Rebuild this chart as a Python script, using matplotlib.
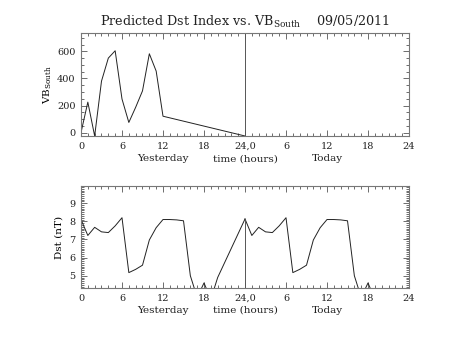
import matplotlib
matplotlib.use("Agg")
import matplotlib.pyplot as plt
from matplotlib.ticker import MultipleLocator

plt.rcParams['font.family'] = 'DejaVu Serif'
plt.rcParams['mathtext.fontset'] = 'dejavuserif'
plt.rcParams['text.color'] = '#222222'

# hourly values, yesterday (0-24) and today (24-48)
vb_hours = [0, 1, 2, 3, 4, 5, 6, 7, 8, 9, 10, 11, 12, 24]
vb_south = [0, 225, -25, 380, 550, 604, 248, 75, 187, 308, 582, 454, 121, -25]

dst_hours_yest = [0, 1, 2, 3, 4, 5, 6, 7, 8, 9, 10, 11, 12, 13, 14, 15, 16, 17, 18, 19, 20, 24]
dst_yest = [8.1, 7.22, 7.67, 7.42, 7.38, 7.75, 8.2, 5.17, 5.35, 5.58, 6.97, 7.65, 8.1, 8.1, 8.08,
            8.03, 5.0, 3.8, 4.6, 3.7, 4.9, 8.13]
dst_hours_today = [24, 25, 26, 27, 28, 29, 30, 31, 32, 33, 34, 35, 36, 37, 38, 39, 40, 41, 42, 43]
dst_today = [8.13, 7.22, 7.67, 7.42, 7.38, 7.75, 8.2, 5.17, 5.35, 5.58, 6.97, 7.65, 8.1, 8.1, 8.08,
             8.03, 5.0, 3.8, 4.6, 3.7]

xticks = [0, 6, 12, 18, 24, 30, 36, 42, 48]
xticklabels = ['0', '6', '12', '18', '24,0', '6', '12', '18', '24']

fig = plt.figure(figsize=(4.53, 3.4), dpi=100)
ax1 = fig.add_axes([0.1788, 0.6, 0.7241, 0.3029])
ax2 = fig.add_axes([0.1788, 0.1529, 0.7241, 0.3])

for ax in (ax1, ax2):
    ax.set_xlim(0, 48)
    ax.set_xticks(xticks)
    ax.set_xticklabels(xticklabels)
    ax.xaxis.set_minor_locator(MultipleLocator(1))
    ax.tick_params(which='both', direction='in', top=True, right=True,
                   labelsize=7, color='#555555', labelcolor='#222222', pad=4)
    ax.tick_params(which='major', length=4, width=0.6)
    ax.tick_params(which='minor', length=2, width=0.6)
    for s in ax.spines.values():
        s.set_color('#777777')
        s.set_linewidth(0.8)
    ax.text(0.25, -0.22, 'Yesterday', transform=ax.transAxes, ha='center', va='center', fontsize=7.5)
    ax.text(0.5, -0.22, 'time (hours)', transform=ax.transAxes, ha='center', va='center', fontsize=7.5)
    ax.text(0.75, -0.22, 'Today', transform=ax.transAxes, ha='center', va='center', fontsize=7.5)

# VB south panel
ax1.plot(vb_hours, vb_south, color='#222222', lw=0.7)
ax1.axvline(24, color='#555555', lw=0.7)
ax1.set_ylim(-25, 735)
ax1.set_yticks([0, 200, 400, 600])
ax1.yaxis.set_minor_locator(MultipleLocator(50))
ax1.set_ylabel('VB$_{\\mathrm{South}}$', fontsize=7.5, labelpad=2)

# Dst panel
ax2.plot(dst_hours_yest, dst_yest, color='#222222', lw=0.7)
ax2.plot(dst_hours_today, dst_today, color='#222222', lw=0.7)
ax2.set_ylim(4.32, 9.95)
ax2.vlines(24, 4.32, dst_today[0], color='#555555', lw=0.7)
ax2.set_yticks([5, 6, 7, 8, 9])
ax2.yaxis.set_minor_locator(MultipleLocator(0.1))
ax2.set_ylabel('Dst (nT)', fontsize=7.5, labelpad=4)

fig.text(0.54, 0.913, 'Predicted Dst Index vs. VB$_{\\mathrm{South}}$    09/05/2011',
         ha='center', va='bottom', fontsize=9.2)

fig.savefig('out.png', dpi=100)
